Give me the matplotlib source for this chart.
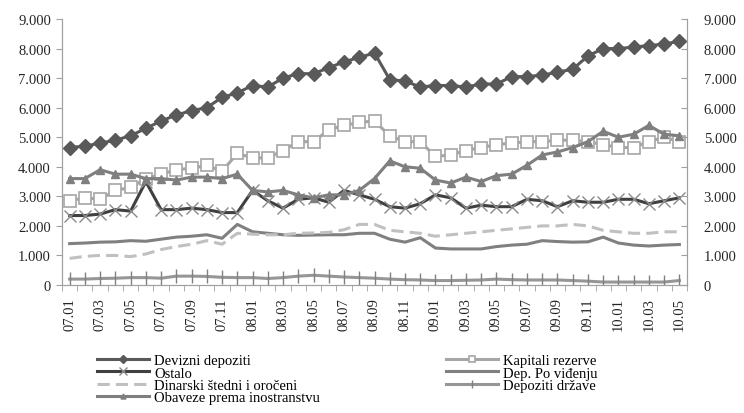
import matplotlib
matplotlib.use("Agg")
import matplotlib.pyplot as plt
import numpy as np

plt.rcParams['font.family'] = ['Liberation Serif', 'DejaVu Serif']

months = [f"{y:02d}.{m:02d}" for y in (7, 8, 9, 10) for m in range(1, 13)][:41]

devizni = [4650, 4700, 4800, 4900, 5050, 5300, 5550, 5750, 5900, 6000, 6350, 6500,
           6750, 6700, 7000, 7150, 7150, 7350, 7550, 7700, 7850, 6950, 6900, 6700,
           6750, 6750, 6700, 6800, 6800, 7050, 7050, 7100, 7200, 7300, 7750, 8000,
           8000, 8050, 8100, 8150, 8250]
kapital = [2850, 2950, 2900, 3200, 3300, 3600, 3750, 3900, 3950, 4050, 3850, 4450,
           4300, 4300, 4550, 4850, 4850, 5250, 5400, 5500, 5550, 5050, 4850, 4850,
           4350, 4400, 4550, 4650, 4750, 4800, 4850, 4850, 4900, 4900, 4850, 4750,
           4650, 4650, 4850, 5000, 4850]
ostalo = [2350, 2350, 2400, 2550, 2500, 3500, 2550, 2550, 2600, 2550, 2450, 2450,
          3200, 2850, 2600, 2900, 2950, 2800, 3200, 3050, 2900, 2650, 2600, 2750,
          3050, 2950, 2600, 2700, 2650, 2650, 2900, 2850, 2650, 2850, 2800, 2800,
          2900, 2900, 2750, 2850, 2950]
dep_vidjenje = [1400, 1420, 1450, 1460, 1500, 1480, 1550, 1620, 1650, 1700, 1580, 2050,
                1800, 1750, 1700, 1680, 1690, 1700, 1700, 1750, 1750, 1550, 1450, 1600,
                1250, 1220, 1220, 1220, 1300, 1350, 1380, 1500, 1470, 1450, 1460, 1620,
                1420, 1350, 1320, 1350, 1370]
dinarski = [900, 970, 1000, 1000, 960, 1050, 1200, 1300, 1380, 1500, 1380, 1750,
            1720, 1700, 1700, 1750, 1760, 1780, 1870, 2050, 2050, 1850, 1800, 1750,
            1650, 1700, 1750, 1800, 1850, 1900, 1950, 2000, 2000, 2050, 2000, 1850,
            1800, 1750, 1750, 1800, 1800]
drzava = [200, 200, 220, 230, 250, 250, 230, 300, 300, 290, 260, 250,
          250, 220, 250, 300, 330, 300, 270, 250, 230, 200, 180, 170,
          150, 150, 160, 170, 200, 180, 170, 170, 170, 150, 130, 100,
          100, 100, 100, 100, 150]
obaveze = [3600, 3600, 3900, 3750, 3750, 3600, 3600, 3550, 3650, 3650, 3600, 3750,
           3200, 3150, 3200, 3050, 2950, 3050, 3050, 3200, 3600, 4200, 4000, 3950,
           3550, 3450, 3650, 3500, 3700, 3750, 4050, 4400, 4500, 4650, 4850, 5200,
           5000, 5100, 5400, 5100, 5050]

labels = ["Devizni depoziti", "Kapitali rezerve", "Ostalo", "Dep. Po viđenju",
          "Dinarski štedni i oročeni", "Depoziti države", "Obaveze prema inostranstvu"]

fig = plt.figure(figsize=(7.44, 4.14), dpi=100)
ax = fig.add_axes([62/744, 1-286/414, (687-62)/744, (286-20)/414])
x = np.arange(len(months))

h_dev, = ax.plot(x, devizni, color='#595959', lw=2.2, marker='D', ms=7, mec='#595959', mfc='#595959')
h_kap, = ax.plot(x, kapital, color='#A6A6A6', lw=2.2, marker='s', ms=8, mfc='white', mec='#A6A6A6', mew=1.2)
h_ost, = ax.plot(x, ostalo, color='#404040', lw=2.2, marker='x', ms=9, mec='#8A8A8A', mew=1.0)
h_vid, = ax.plot(x, dep_vidjenje, color='#808080', lw=2.2)
h_din, = ax.plot(x, dinarski, color='#C0C0C0', lw=2.2, ls=(0, (4, 2)))
h_drz, = ax.plot(x, drzava, color='#969696', lw=2.2, marker='|', ms=10, mec='#808080', mew=1.0)
h_oba, = ax.plot(x, obaveze, color='#7F7F7F', lw=2.2, marker='^', ms=6, mfc='#7F7F7F', mec='#7F7F7F')

fs = 10.5
ax.set_xlim(-0.5, len(months) - 0.5)
ax.set_ylim(0, 9000)
yt = np.arange(0, 9001, 1000)
ylabels = ["0" if v == 0 else f"{v//1000}.000" for v in yt]
ax.set_yticks(yt)
ax.set_yticklabels(ylabels, fontsize=fs, color='#262626')
ax.set_xticks(x[::2])
ax.set_xticklabels(months[::2], rotation=90, fontsize=fs, color='#262626')
ax.set_xticks(np.arange(-0.5, len(months), 1), minor=True)
ax.tick_params(axis='x', which='major', length=0, pad=9)
ax.tick_params(axis='x', which='minor', length=4, color='#A0A0A0', direction='out')
ax.tick_params(axis='y', length=4, color='#A0A0A0', direction='out', pad=4)
ax.spines['top'].set_visible(False)
for s in ['left', 'right', 'bottom']:
    ax.spines[s].set_color('#A0A0A0')

ax2 = ax.twinx()
ax2.set_ylim(0, 9000)
ax2.set_yticks(yt)
ax2.set_yticklabels(ylabels, fontsize=fs, color='#262626')
ax2.tick_params(axis='y', length=4, color='#A0A0A0', direction='in', pad=12)
ax2.spines['top'].set_visible(False)
for s in ['left', 'right', 'bottom']:
    ax2.spines[s].set_color('#A0A0A0')

handles = [h_dev, h_ost, h_din, h_oba, h_kap, h_vid, h_drz]
leg_labels = [labels[0], labels[2], labels[4], labels[6], labels[1], labels[3], labels[5]]
fig.legend(handles, leg_labels, ncol=2, loc='upper left', bbox_to_anchor=(91/744, 1-349/414),
           frameon=False, fontsize=fs, handlelength=3.6, columnspacing=8.6,
           labelspacing=-0.05, handletextpad=0.35, borderaxespad=0, markerscale=0.6)

fig.savefig("out.png", dpi=100)
